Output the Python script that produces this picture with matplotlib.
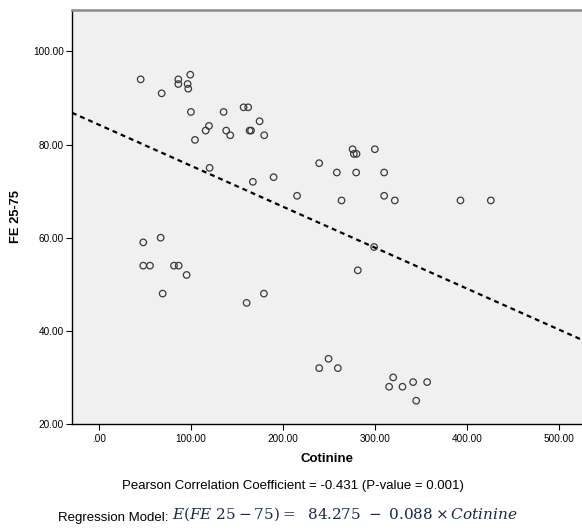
import matplotlib
matplotlib.use("Agg")
import matplotlib.pyplot as plt
import numpy as np

plt.rcParams['font.family'] = ['Liberation Sans', 'DejaVu Sans']

# Data
cotinine = [45.6, 68.4, 86.5, 86.5, 96.6, 99.5, 97.3, 100.2, 104.6, 116.2,
            119.8, 120.5, 135.7, 138.5, 142.9, 157.4, 162.4, 163.9, 165.5, 174.8,
            179.8, 167.5, 190.0, 215.5,
            48.4, 67.3, 48.4, 55.7, 81.8, 86.9, 95.5, 69.5, 160.7, 179.5,
            239.5, 258.7, 279.7, 310.1, 263.8, 310.1, 321.7, 393.0, 426.0, 275.8,
            277.2, 280.1, 300.0, 299.2, 281.5,
            239.5, 249.7, 259.8, 319.9, 315.5, 330.0, 341.6, 356.8, 344.9]
fe2575 = [94, 91, 94, 93, 93, 95, 92, 87, 81, 83,
          84, 75, 87, 83, 82, 88, 88, 83, 83, 85,
          82, 72, 73, 69,
          59, 60, 54, 54, 54, 54, 52, 48, 46, 48,
          76, 74, 74, 74, 68, 69, 68, 68, 68, 79,
          78, 78, 79, 58, 53,
          32, 34, 32, 30, 28, 28, 29, 29, 25]

intercept = 84.275
slope = -0.088

x_ticks = [0, 100, 200, 300, 400, 500]
x_ticklabels = ['.00', '100.00', '200.00', '300.00', '400.00', '500.00']
y_ticks = [20, 40, 60, 80, 100]
y_ticklabels = ['20.00', '40.00', '60.00', '80.00', '100.00']

fig = plt.figure(figsize=(5.82, 5.29), dpi=100)
W, H = 582, 529
ax = fig.add_axes([72 / W, 1 - 424 / H, (581.5 - 72) / W, (424 - 9.5) / H])
ax.set_facecolor('#f0f0f0')

xlim = (-29.0, 524.5)
ylim = (20.0, 109.0)
ax.set_xlim(*xlim)
ax.set_ylim(*ylim)

xs = np.array(xlim)
ax.plot(xs, intercept + slope * xs, color='black', lw=1.6,
        linestyle=(0, (2.2, 1.8)), zorder=2)

ax.scatter(cotinine, fe2575, s=22, facecolors='none', edgecolors='#3a3a3a',
           linewidths=0.9, zorder=3)

ax.spines['right'].set_visible(False)
ax.spines['top'].set_color('#8a8a8a')
ax.spines['top'].set_linewidth(1.8)
ax.spines['left'].set_color('black')
ax.spines['bottom'].set_color('black')
ax.spines['left'].set_linewidth(1.0)
ax.spines['bottom'].set_linewidth(1.0)

ax.set_xticks(x_ticks)
ax.set_xticklabels(x_ticklabels)
ax.set_yticks(y_ticks)
ax.set_yticklabels(y_ticklabels)
ax.tick_params(axis='both', labelsize=7.2, colors='black', length=4, width=0.8,
               pad=2)
ax.tick_params(axis='x', pad=3)

ax.set_xlabel('Cotinine', fontsize=9.5, fontweight='bold', labelpad=7)
ax.set_ylabel('FE 25-75', fontsize=9.3, fontweight='bold', labelpad=8)

fig.text(292.5 / W, 1 - 486 / H,
         'Pearson Correlation Coefficient = -0.431 (P-value = 0.001)',
         ha='center', va='center', fontsize=9.5)
fig.text(168 / W, 1 - 521 / H, 'Regression Model:', ha='right',
         va='baseline', fontsize=9.5)
fig.text(172 / W, 1 - 519 / H,
         r'$E(FE\ 25-75)=\ \ 84.275\ -\ 0.088\times Cotinine$',
         ha='left', va='baseline', fontsize=11, math_fontfamily='dejavuserif',
         color='#1c2a48')

fig.savefig('out.png', dpi=100)
